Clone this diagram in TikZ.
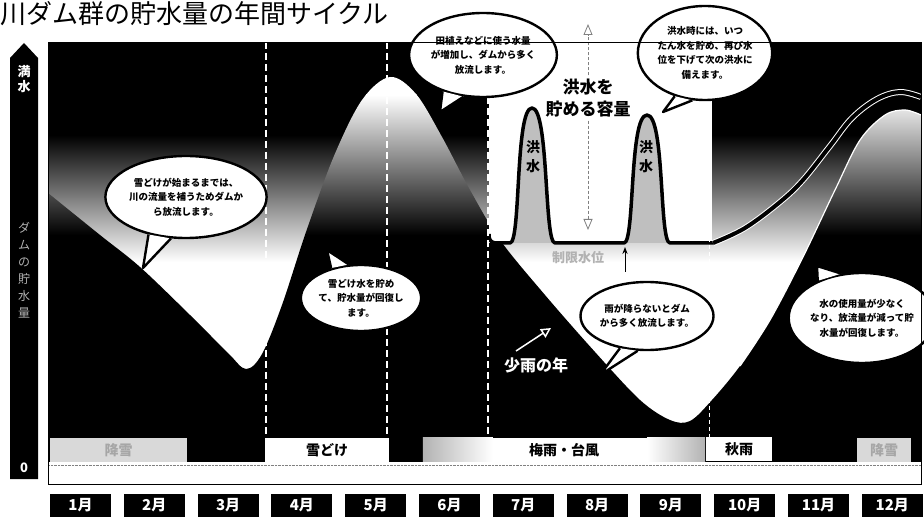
\documentclass[tikz,border=0pt]{standalone}
\usepackage{fontspec}
\setmainfont{Noto Sans CJK JP}
\usetikzlibrary{positioning, arrows.meta, shapes.geometric}
\tikzset{
	bubble/.style = {ellipse, draw=black, line width=2.4pt, fill=white, inner sep=0pt, align=center, font=\fontsize{9.5}{14.5}\selectfont\bfseries},
	tail/.style = {draw=black, line width=2.4pt, fill=white, line join=round},
	month/.style = {rectangle, fill=black, minimum width=61pt, minimum height=23pt, inner sep=0pt, text=white, font=\fontsize{15}{15}\selectfont\bfseries},
	season/.style = {rectangle, fill=white, minimum height=24pt, inner sep=0pt, font=\fontsize{14}{14}\selectfont\bfseries},
	faded/.style = {season, fill=gray!30, text=gray!70},
	divider/.style = {white, line width=2.6pt, dash pattern=on 7pt off 4pt},
	thindivider/.style = {white, line width=0.9pt, dash pattern=on 4pt off 3pt},
	level/.style = {draw=black, line width=3.5pt, line join=round},
	rise/.style = {white, line width=1pt, double=black, double distance=4pt},
	dryline/.style = {white, line width=1.2pt},
	floodtext/.style = {align=center, font=\fontsize{14}{19}\selectfont\bfseries},
	captext/.style = {align=center, font=\fontsize{17}{22}\selectfont\bfseries},
	dimarrow/.style = {-{Triangle[open, length=11pt, width=9pt]}, gray, densely dashed, line width=0.8pt},
	limarrow/.style = {-{Stealth[length=7pt]}, black, line width=1pt},
	dryarrow/.style = {-{Triangle[open, length=10pt, width=10pt]}, white, line width=1.5pt},
	axislabel/.style = {align=center, text=white, font=\fontsize{13}{15}\selectfont\bfseries}
}

\begin{document}
\begin{tikzpicture}[x=1pt, y=-1pt]
	\useasboundingbox (0,0) rectangle (924,521);
	
	% Chart background
	\fill[black] (48,42) rectangle (921,462);
	\shade[top color=black, bottom color=white] (48,135) rectangle (921,262);
	\fill[white] (48,262) rectangle (921,462);
	
	% Water below the storage curve
	\begin{scope}
		\clip plot[smooth, tension=0.55] coordinates {(48,193) (100,235) (140,267) (190,315) (228,353) (246,369) (262,354) (282,305) (306,232) (334,156) (362,100) (390,77) (416,94) (442,137) (470,190) (500,240) (545,295) (595,352) (640,400) (670,420) (690,421) (712,400) (740,366) (770,320) (803,257) (835,190) (860,140) (885,115) (905,110) (921,115)} -- (921,462) -- (48,462) -- cycle;
		\fill[white] (48,42) rectangle (921,95);
		\shade[top color=white, bottom color=black] (48,95) rectangle (921,235);
		\fill[black] (48,235) rectangle (921,462);
	\end{scope}
	
	% Flood control capacity
	\fill[white] (489,42) rectangle (712,243);
	
	% Flood peaks and level
	\fill[gray!50] (510,243) .. controls (521,243) and (515,108) .. (532,108) .. controls (549,108) and (544,243) .. (555,243) -- cycle;
	\fill[gray!50] (624,243) .. controls (635,243) and (629,115) .. (647,115) .. controls (665,115) and (659,243) .. (670,243) -- cycle;
	\draw[level] (489,234) .. controls (489,241) and (491,243) .. (498,243) -- (510,243) .. controls (521,243) and (515,108) .. (532,108) .. controls (549,108) and (544,243) .. (555,243) -- (624,243) .. controls (635,243) and (629,115) .. (647,115) .. controls (665,115) and (659,243) .. (670,243) -- (715,243);
	
	% Recovery curves
	\draw[rise] plot[smooth, tension=0.6] coordinates {(713,243) (745,228) (780,202) (803,180) (830,146) (852,118) (877,99) (900,92) (921,97)};
	\draw[dryline] plot[smooth, tension=0.55] coordinates {(740,366) (770,320) (803,257) (835,190) (860,140) (885,115) (905,110) (921,115)};
	
	% Month dividers
	\draw[divider] (266,42) -- (266,438);
	\draw[divider] (387,42) -- (387,438);
	\draw[divider] (488,42) -- (488,438);
	\draw[thindivider] (709,42) -- (709,484);
	
	% Capacity label
	\node (cap) [captext] at (588,98) {洪水を\\貯める容量};
	\coordinate (captop) at (588,24);
	\coordinate (capbot) at (588,230);
	\draw[dimarrow] (cap) -- (captop);
	\draw[dimarrow] (cap) -- (capbot);
	
	% Restricted level
	\node (lim) [font=\fontsize{13}{13}\selectfont\bfseries, text=gray!60] at (578,258) {制限水位};
	\coordinate (limfoot) at (625,272);
	\coordinate (limtip) at (625,247);
	\draw[limarrow] (limfoot) -- (limtip);
	
	% Flood labels
	\node (f1) [floodtext] at (533,157) {洪\\水};
	\node (f2) [floodtext] at (646,157) {洪\\水};
	
	% Dry year
	\node (dry) [text=white, font=\fontsize{16}{16}\selectfont\bfseries] at (536,365) {少雨の年};
	\coordinate (drytail) at (516,351);
	\coordinate (drytip) at (551,328);
	\draw[dryarrow] (drytail) -- (drytip);
	
	% Bubbles
	\node (b1) [bubble, minimum width=136pt, minimum height=82pt] at (186,197) {雪どけが始まるまでは、\\川の流量を補うためダムか\\ら放流します。};
	\coordinate (t1) at (143,268);
	\path[tail] (b1.225) -- (t1) -- (b1.250);
	
	\node (b2) [bubble, minimum width=112pt, minimum height=66pt] at (361,298) {雪どけ水を貯め\\て、貯水量が回復し\\ます。};
	\coordinate (t2) at (327,250);
	\path[tail] (b2.110) -- (t2) -- (b2.135);
	
	\node (b3) [bubble, minimum width=136pt, minimum height=84pt] at (483,55) {田植えなどに使う水量\\が増加し、ダムから多く\\放流します。};
	\coordinate (t3) at (440,112);
	\path[tail] (b3.222) -- (t3) -- (b3.245);
	
	\node (b4) [bubble, minimum width=124pt, minimum height=94pt] at (705,53) {洪水時には、いつ\\たん水を貯め、再び水\\位を下げて次の洪水に\\備えます。};
	\coordinate (t4) at (663,112);
	\path[tail] (b4.235) -- (t4) -- (b4.255);
	
	\node (b5) [bubble, minimum width=126pt, minimum height=68pt] at (647,316) {雨が降らないとダム\\から多く放流します。};
	\coordinate (t5) at (600,375);
	\path[tail] (b5.230) -- (t5) -- (b5.255);
	
	\node (b6) [bubble, minimum width=130pt, minimum height=90pt] at (862,318) {水の使用量が少なく\\なり、放流量が減って貯\\水量が回復します。};
	\coordinate (t6) at (817,266);
	\path[tail] (b6.115) -- (t6) -- (b6.140);
	
	% Seasons
	\node (snow1) [faded, minimum width=137pt] at (118.5,450) {降雪};
	\node (melt) [season, minimum width=124pt] at (327,450) {雪どけ};
	\node (rain) [season, minimum width=282pt] at (564,450) {梅雨・台風};
	\shade[left color=gray!60, right color=white] (rain.north west) rectangle ++(70,24);
	\shade[left color=white, right color=gray!60] (rain.north east) rectangle ++(-58,24);
	\node (autumn) [season, minimum width=66pt] at (739,449) {秋雨};
	\node (snow2) [faded, minimum width=54pt] at (884,450) {降雪};
	
	% Bottom strip and frame
	\fill[white] (48,462) rectangle (921,484);
	\draw[gray, densely dotted] (48,465) -- (921,465);
	\draw[black, line width=0.6pt] (48,42) rectangle (921,484);
	
	% Months
	\node (m1) [month] at (80.5,505) {1月};
	\node (m2) [month, right=12.4pt of m1] {2月};
	\node (m3) [month, right=12.4pt of m2] {3月};
	\node (m4) [month, right=12.4pt of m3] {4月};
	\node (m5) [month, right=12.4pt of m4] {5月};
	\node (m6) [month, right=12.4pt of m5] {6月};
	\node (m7) [month, right=12.4pt of m6] {7月};
	\node (m8) [month, right=12.4pt of m7] {8月};
	\node (m9) [month, right=12.4pt of m8] {9月};
	\node (m10) [month, right=12.4pt of m9] {10月};
	\node (m11) [month, right=12.4pt of m10] {11月};
	\node (m12) [month, right=12.4pt of m11] {12月};
	
	% Storage axis
	\fill[black] (10,479) -- (10,58) -- (24,43) -- (38,58) -- (38,479) -- cycle;
	\node (full) [axislabel] at (24,79) {満\\水};
	\node (axisname) [axislabel, text=gray!60, font=\fontsize{12}{17}\selectfont] at (24,270) {ダ\\ム\\の\\貯\\水\\量};
	\node (zero) [axislabel] at (24,468) {0};
	
	% Title
	\node (title) [anchor=west, inner sep=0pt, font=\fontsize{26}{26}\selectfont] at (0,14) {川ダム群の貯水量の年間サイクル};
	
\end{tikzpicture}
\end{document}
